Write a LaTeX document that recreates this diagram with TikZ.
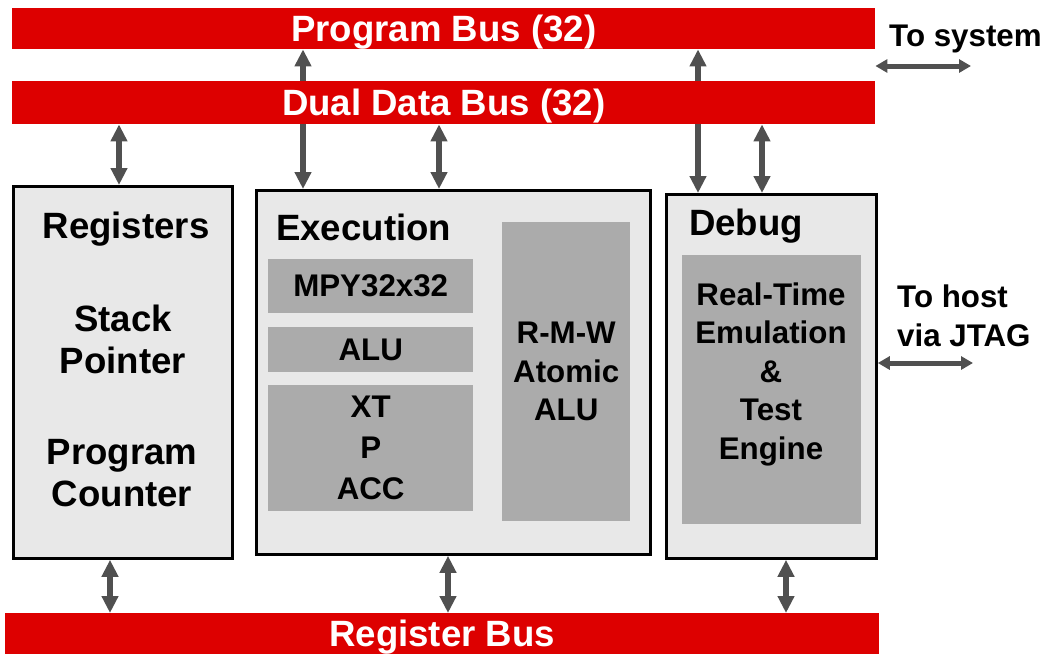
\documentclass[tikz,border=0pt]{standalone}
\usepackage{fontspec}
\setmainfont{Liberation Sans}
\usetikzlibrary{arrows.meta,positioning,backgrounds,shadows}

\definecolor{busred}{RGB}{221,0,0}
\definecolor{boxgray}{RGB}{232,232,232}
\definecolor{unitgray}{RGB}{171,171,171}
\definecolor{linkgray}{RGB}{80,80,80}

\newcommand{\bigfont}{\fontsize{36.6}{44}\selectfont\bfseries}
\newcommand{\smallfont}{\fontsize{31.3}{38.5}\selectfont\bfseries}

\tikzset{
    bus/.style={fill=busred, text=white, font=\bigfont, anchor=north west,
        inner sep=0pt, minimum width=863pt, text height=30pt, text depth=4pt},
    block/.style={draw=black, line width=2.8pt, fill=boxgray, anchor=north west,
        inner sep=0pt, drop shadow={shadow xshift=1.5pt, shadow yshift=-1.5pt,
        fill=black, opacity=1}},
    unit/.style={fill=unitgray, font=\smallfont, anchor=north west, inner sep=0pt,
        align=center, minimum width=205pt},
    title/.style={font=\bigfont, anchor=west, inner sep=0pt},
    txt/.style={font=\smallfont, align=center, inner sep=0pt},
    link/.style={linkgray, line width=6pt,
        {Triangle[length=17pt,width=16pt]}-{Triangle[length=17pt,width=16pt]}},
    sidelink/.style={linkgray, line width=5pt,
        {Triangle[length=12pt,width=13pt]}-{Triangle[length=12pt,width=13pt]}}
}

\begin{document}
\begin{tikzpicture}[x=1pt, y=-1pt]
    \useasboundingbox (0,0) rectangle (1048,654);

    % buses
    \node[bus, minimum height=41pt] (pbus) at (12,8) {Program Bus (32)};
    \node[bus, minimum height=43pt] (dbus) at (12,81) {Dual Data Bus (32)};
    \node[bus, minimum height=41pt, minimum width=874pt] (rbus) at (5,613) {Register Bus};

    % blocks
    \node[block, minimum width=219pt, minimum height=372pt] (regs) at (12,185) {};
    \node[block, minimum width=394pt, minimum height=364pt] (exec) at (255,189) {};
    \node[block, minimum width=210pt, minimum height=364pt] (debug) at (665,193) {};

    % registers
    \node[title, anchor=center] (regtitle) at (126,229) {Registers};
    \node[font=\bigfont, align=center, inner sep=0pt] (sp) at (123,339) {Stack\\[-2pt]Pointer};
    \node[font=\bigfont, align=center, inner sep=0pt] (pc) at (122,473) {Program\\[-2pt]Counter};

    % execution
    \node[title] (exectitle) at (276,227) {Execution};
    \node[unit, minimum height=54pt] (mpy) at (268,259) {MPY32x32};
    \node[unit, minimum height=45pt] (alu) at (268,327) {ALU};
    \node[unit, minimum height=126pt] (acc) at (268,385) {XT\\[2.5pt]P\\[2.5pt]ACC};
    \node[unit, minimum width=128pt, minimum height=299pt] (rmw) at (502,222) {R-M-W\\Atomic\\ALU};

    % debug
    \node[title] (dbgtitle) at (689,226) {Debug};
    \node[fill=unitgray, anchor=north west, minimum width=179pt, minimum height=269pt] (rte) at (682,255) {};
    \node[txt] (rtetxt) at (771,374) {Real-Time\\Emulation\\\&\\Test\\Engine};

    % outside
    \node[font=\smallfont, anchor=west, inner sep=0pt] (sys) at (889,39) {To system};
    \node[font=\smallfont, anchor=west, align=left, inner sep=0pt] (host) at (897,316) {To host\\via JTAG};
    \coordinate (sysend) at (971,66);
    \coordinate (jtagend) at (973,363);

    % connectors
    \begin{scope}[on background layer]
        \draw[link] (pbus.south -| 303,0) -- (exec.north -| 303,0);
        \draw[link] (pbus.south -| 698,0) -- (debug.north -| 698,0);
    \end{scope}
    \foreach \x/\to in {119/regs, 439/exec, 762/debug} {
        \draw[link] (dbus.south -| \x,0) -- (\to.north -| \x,0);
    }
    \foreach \x/\from in {110/regs, 448/exec, 786/debug} {
        \draw[link] (\from.south -| \x,0) -- (rbus.north -| \x,0);
    }
    \draw[sidelink] (pbus.east |- sysend) -- (sysend);
    \draw[sidelink] (debug.east |- jtagend) -- (jtagend);
\end{tikzpicture}
\end{document}
